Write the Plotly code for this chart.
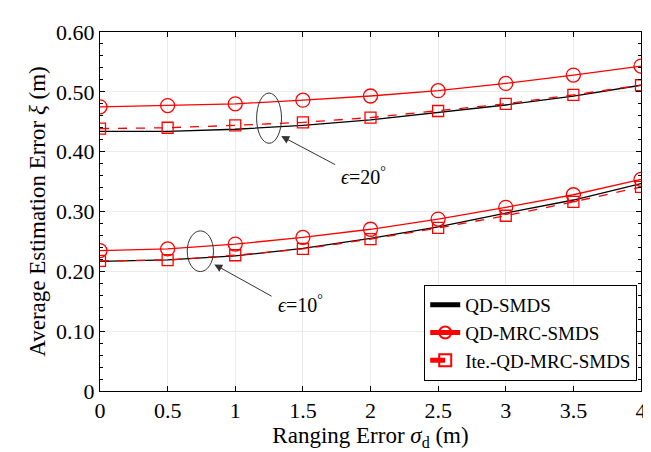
import plotly.graph_objects as go

sigma_d = [0, 0.5, 1, 1.5, 2, 2.5, 3, 3.5, 4]

# epsilon = 20 deg
qd_smds_20 = [0.434, 0.434, 0.4375, 0.444, 0.453, 0.465, 0.478, 0.493, 0.511]
qd_mrc_20 = [0.475, 0.477, 0.480, 0.486, 0.493, 0.502, 0.514, 0.528, 0.543]
ite_mrc_20 = [0.4385, 0.440, 0.444, 0.449, 0.457, 0.468, 0.480, 0.495, 0.511]

# epsilon = 10 deg
qd_smds_10 = [0.2165, 0.219, 0.2258, 0.2385, 0.255, 0.2742, 0.2973, 0.3192, 0.3466]
qd_mrc_10 = [0.2346, 0.2374, 0.2456, 0.2566, 0.2703, 0.2874, 0.307, 0.328, 0.3537]
ite_mrc_10 = [0.2176, 0.2187, 0.2269, 0.2374, 0.2538, 0.2725, 0.2929, 0.316, 0.341]

y_tickvals = [0, 0.1, 0.2, 0.3, 0.4, 0.5, 0.6]
y_ticktext = ["0", "0.10", "0.20", "0.30", "0.40", "0.50", "0.60"]
x_tickvals = [0, 0.5, 1, 1.5, 2, 2.5, 3, 3.5, 4]
x_ticktext = ["0", "0.5", "1", "1.5", "2", "2.5", "3", "3.5", "4"]

FONT = "Liberation Serif"
RED = "#ff0000"

fig = go.Figure()

def add(y, name, color, dash, symbol, size, show):
    kw = {}
    if symbol:
        kw["marker"] = dict(symbol=symbol, size=size, color=color, line=dict(color=color, width=1.3))
    fig.add_trace(go.Scatter(
        x=sigma_d, y=y, name=name, showlegend=show, legendgroup=name,
        mode="lines+markers" if symbol else "lines",
        line=dict(color=color, width=1.3, dash=dash), **kw))

add(qd_smds_20, "QD-SMDS", "black", "solid", None, 0, True)
add(qd_mrc_20, "QD-MRC-SMDS", RED, "solid", "circle-open", 14, True)
add(ite_mrc_20, "Ite.-QD-MRC-SMDS", RED, "dash", "square-open", 11, True)
add(qd_smds_10, "QD-SMDS", "black", "solid", None, 0, False)
add(qd_mrc_10, "QD-MRC-SMDS", RED, "solid", "circle-open", 14, False)
add(ite_mrc_10, "Ite.-QD-MRC-SMDS", RED, "dash", "square-open", 11, False)

# ellipses
fig.add_shape(type="circle", xref="x", yref="y", x0=1.25 - 0.092, x1=1.25 + 0.092,
              y0=0.456 - 0.042, y1=0.456 + 0.042, line=dict(color="#333333", width=1))
fig.add_shape(type="circle", xref="x", yref="y", x0=0.742 - 0.097, x1=0.742 + 0.097,
              y0=0.2336 - 0.034, y1=0.2336 + 0.034, line=dict(color="#333333", width=1))

# arrows
fig.add_annotation(x=1.34, y=0.426, ax=1.75, ay=0.377, xref="x", yref="y", axref="x", ayref="y",
                   text="", showarrow=True, arrowhead=2, arrowsize=1.6, arrowwidth=1,
                   arrowcolor="#333333")
fig.add_annotation(x=0.845, y=0.2116, ax=1.28, ay=0.157, xref="x", yref="y", axref="x", ayref="y",
                   text="", showarrow=True, arrowhead=2, arrowsize=1.6, arrowwidth=1,
                   arrowcolor="#333333")
fig.add_annotation(x=1.77, y=0.36, xref="x", yref="y", xanchor="left", yanchor="middle",
                   text="<i>ϵ</i>=20<sup>°</sup>", showarrow=False,
                   font=dict(family=FONT, size=20, color="black"))
fig.add_annotation(x=1.3, y=0.145, xref="x", yref="y", xanchor="left", yanchor="middle",
                   text="<i>ϵ</i>=10<sup>°</sup>", showarrow=False,
                   font=dict(family=FONT, size=20, color="black"))

axis_common = dict(showline=True, linecolor="black", linewidth=1, mirror="ticks",
                   ticks="inside", ticklen=5, tickcolor="black",
                   showgrid=True, gridcolor="#ebebeb", gridwidth=1, zeroline=False,
                   tickfont=dict(family=FONT, size=22, color="black"))

fig.update_xaxes(range=[0, 4], tickvals=x_tickvals, ticktext=x_ticktext,
                 title=dict(text="Ranging Error <i>σ</i><sub>d</sub> (m)",
                            font=dict(family=FONT, size=23, color="black"), standoff=4),
                 **axis_common)
fig.update_yaxes(range=[0, 0.6], tickvals=y_tickvals, ticktext=y_ticktext,
                 minor=dict(ticks="inside", ticklen=3, tickcolor="black", dtick=0.02, showgrid=False),
                 title=dict(text="Average Estimation Error <i>ξ</i> (m)",
                            font=dict(family=FONT, size=23, color="black"), standoff=4),
                 **axis_common)

fig.update_layout(
    width=651, height=452,
    margin=dict(l=92, r=13, t=20, b=69),
    plot_bgcolor="white", paper_bgcolor="white",
    legend=dict(x=0.993, y=0.028, xanchor="right", yanchor="bottom",
                bordercolor="black", borderwidth=1, bgcolor="white",
                font=dict(family=FONT, size=19, color="black"),
                tracegroupgap=0, itemsizing="constant"),
)

fig.write_html("out.html")
